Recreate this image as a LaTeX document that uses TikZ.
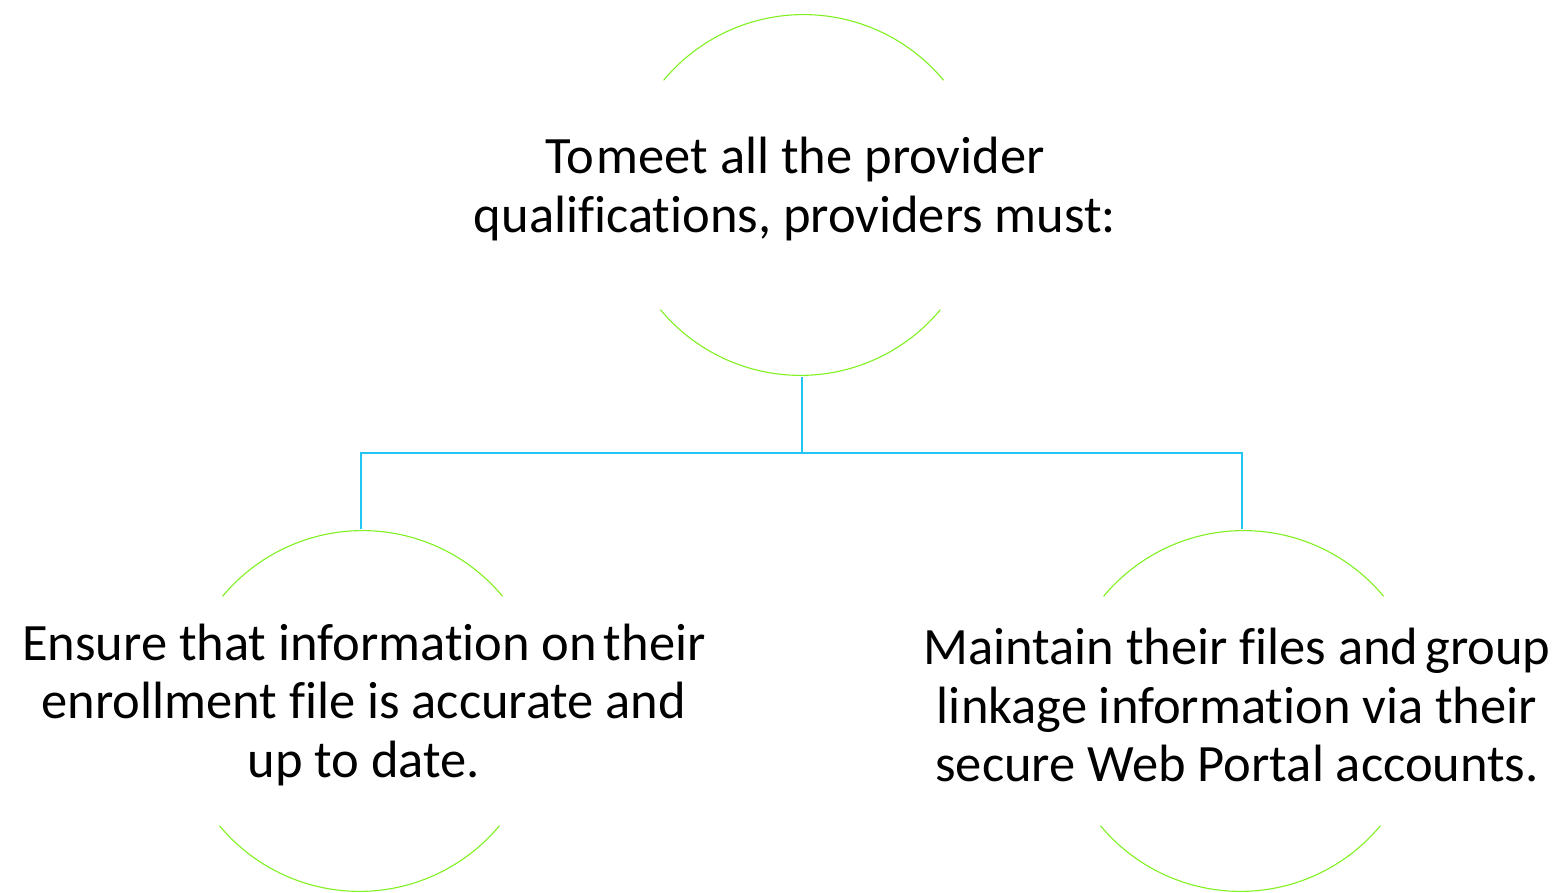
\documentclass[tikz,border=0pt]{standalone}
\usepackage{fontspec}
\setmainfont{Carlito}[Ligatures=CommonOff]
\definecolor{arcgreen}{HTML}{80F020}
\definecolor{linkblue}{HTML}{22C6F2}
\begin{document}
\begin{tikzpicture}[x=1pt,y=1pt,
  circ/.style={circle,minimum size=364pt,inner sep=0pt},
  lbl/.style={align=center,font=\fontsize{52.5}{58.5}\selectfont,inner sep=0pt},
  arcline/.style={draw=arcgreen,line width=1.1pt},
  link/.style={draw=linkblue,line width=1.4pt}]
\useasboundingbox (0,0) rectangle (1562,893);
\node[circ] (top) at (802,698) {};
\node[circ] (left) at (361,182) {};
\node[circ] (right) at (1242,182) {};
\foreach \n in {top,left,right}{
  \draw[arcline] (\n.39.7) arc[start angle=39.7,end angle=140.3,radius=182];
  \draw[arcline] (\n.219.7) arc[start angle=219.7,end angle=320.3,radius=182];
}
\node[lbl] (ttop) at (795,704) {To\hspace{3pt}meet all the provider\\qualifications, providers must:};
\node[lbl] (tleft) at (364,188) {Ensure that information on\hspace{7pt}their\\enrollment file is accurate and\\up to date.};
\node[lbl] (tright) at (1237,188) {Maintain their files and\hspace{7pt}group\\linkage information via their\\secure Web Portal accounts.};
\coordinate (mid) at (802,440);
\draw[link] (top.south) -- (mid);
\draw[link] (left.north) |- (mid) -| (right.north);
\end{tikzpicture}
\end{document}
